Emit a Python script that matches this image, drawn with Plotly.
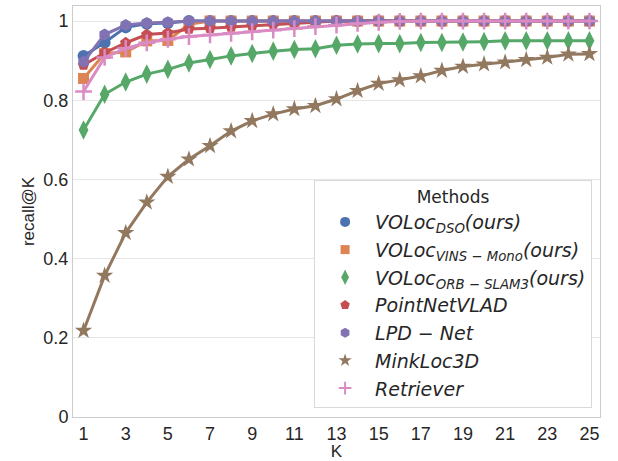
import plotly.graph_objects as go

K = list(range(1, 26))

voloc_dso = [0.912, 0.946, 0.984, 0.993, 0.995, 1.0, 1.0, 1.0, 1.0, 1.0, 1.0, 1.0, 1.0,
             1.0, 1.0, 1.0, 1.0, 1.0, 1.0, 1.0, 1.0, 1.0, 1.0, 1.0, 1.0]
voloc_vins = [0.855, 0.918, 0.922, 0.950, 0.951, 0.992, 1.0, 1.0, 1.0, 1.0, 1.0, 1.0, 1.0,
              1.0, 1.0, 1.0, 1.0, 1.0, 1.0, 1.0, 1.0, 1.0, 1.0, 1.0, 1.0]
voloc_orb = [0.725, 0.815, 0.846, 0.866, 0.878, 0.894, 0.903, 0.912, 0.918, 0.924, 0.928, 0.930,
             0.939, 0.942, 0.943, 0.943, 0.946, 0.946, 0.947, 0.948, 0.950, 0.950, 0.950, 0.950, 0.950]
pointnetvlad = [0.889, 0.920, 0.945, 0.966, 0.970, 0.980, 0.982, 0.985, 0.988, 0.992, 0.995, 0.997,
                1.0, 1.0, 1.0, 1.0, 1.0, 1.0, 1.0, 1.0, 1.0, 1.0, 1.0, 1.0, 1.0]
lpd_net = [0.897, 0.966, 0.990, 0.995, 0.997, 1.0, 1.0, 1.0, 1.0, 1.0, 1.0, 1.0, 1.0,
           1.0, 1.0, 1.0, 1.0, 1.0, 1.0, 1.0, 1.0, 1.0, 1.0, 1.0, 1.0]
minkloc3d = [0.218, 0.357, 0.465, 0.542, 0.607, 0.651, 0.685, 0.722, 0.748, 0.765, 0.778, 0.786,
             0.803, 0.824, 0.842, 0.851, 0.861, 0.875, 0.885, 0.891, 0.896, 0.902, 0.908, 0.916, 0.917]
retriever = [0.822, 0.908, 0.931, 0.945, 0.954, 0.961, 0.965, 0.969, 0.973, 0.977, 0.981, 0.986,
             0.990, 0.994, 0.997, 0.999, 1.0, 1.0, 1.0, 1.0, 1.0, 1.0, 1.0, 1.0, 1.0]

names = [
    "<i>VOLoc<sub>DSO</sub>(ours)</i>",
    "<i>VOLoc<sub>VINS − Mono</sub>(ours)</i>",
    "<i>VOLoc<sub>ORB − SLAM3</sub>(ours)</i>",
    "<i>PointNetVLAD</i>",
    "<i>LPD − Net</i>",
    "<i>MinkLoc3D</i>",
    "<i>Retriever</i>",
]
series = [voloc_dso, voloc_vins, voloc_orb, pointnetvlad, lpd_net, minkloc3d, retriever]
colors = ["#4C72B0", "#DD8452", "#55A868", "#C44E52", "#8172B3", "#937860", "#DA8BC3"]
symbols = ["circle", "square", "diamond-tall", "pentagon", "hexagon", "star", "cross-thin"]
sizes = [12, 11, 14, 12, 12, 13, 12]
leg_sizes = [10, 9, 11, 10, 10, 10, 9]


def make_marker(sym, sz, c, lw=2.5):
    m = dict(symbol=sym, size=sz, color=c)
    if sym == "cross-thin":
        m["line"] = dict(color=c, width=lw)
    else:
        m["line"] = dict(width=0)
    return m


fig = go.Figure()
for n, s, c, sym, sz in zip(names, series, colors, symbols, sizes):
    fig.add_trace(go.Scatter(x=K, y=s, mode="lines+markers", name=n, showlegend=False,
                             line=dict(color=c, width=3), marker=make_marker(sym, sz, c)))
# legend entries (markers only, as in the reference legend)
for n, c, sym, sz in zip(names, colors, symbols, leg_sizes):
    fig.add_trace(go.Scatter(x=[None], y=[None], mode="markers", name=n, showlegend=True,
                             marker=make_marker(sym, sz, c, lw=2)))

fig.update_layout(
    width=618, height=461,
    margin=dict(l=73, r=18, t=6, b=44),
    paper_bgcolor="white", plot_bgcolor="white",
    font=dict(family="Liberation Sans, Arial, sans-serif", size=16, color="#262626"),
    showlegend=True,
    legend=dict(
        title=dict(text="Methods", side="top center",
                   font=dict(family="DejaVu Sans, sans-serif", size=17, color="#262626")),
        font=dict(family="DejaVu Sans, sans-serif", size=19, color="#262626"),
        x=0.985, xanchor="right", y=0.022, yanchor="bottom",
        bgcolor="white", bordercolor="#d9d9d9", borderwidth=1,
        itemwidth=50,
    ),
    xaxis=dict(
        range=[0.5, 25.5], tickvals=list(range(1, 26, 2)),
        showgrid=False, zeroline=False,
        showline=True, linecolor="#cccccc", linewidth=1, mirror=True,
        ticks="", tickfont=dict(size=18), title=dict(text="K", standoff=0, font=dict(size=17)),
    ),
    yaxis=dict(
        range=[0, 1.038], tickvals=[0, 0.2, 0.4, 0.6, 0.8, 1.0],
        ticktext=["0", "0.2", "0.4", "0.6", "0.8", "1"],
        showgrid=True, gridcolor="#e6e6e6", gridwidth=1, zeroline=False,
        showline=True, linecolor="#cccccc", linewidth=1, mirror=True,
        ticks="", tickfont=dict(size=18), title=dict(text="recall@K", standoff=4, font=dict(size=17)),
    ),
)

fig.write_html("out.html", config={"displayModeBar": False},
               post_script="document.body.style.margin='0';")
